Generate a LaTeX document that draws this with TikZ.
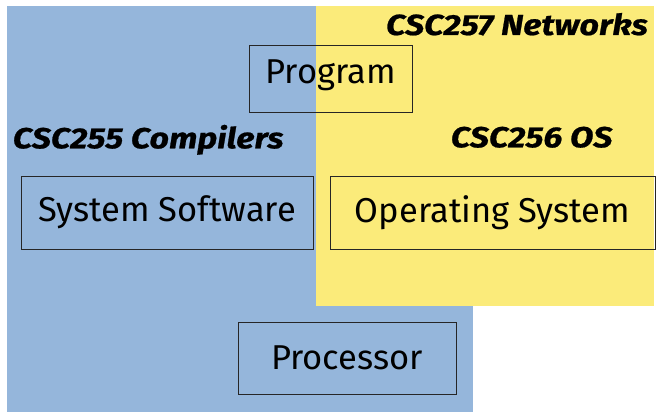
\documentclass[tikz,border=0pt]{standalone}
\usepackage{fontspec}
\setmainfont{Fira Sans}
\newcommand{\widelabel}[1]{\scalebox{1.175}[1]{\addfontfeatures{FakeBold=0.7}#1}}
\begin{document}
\begin{tikzpicture}[x=1pt,y=-1pt,
  boxnode/.style={draw=black!85, line width=1pt, inner sep=0pt, text height=23.5pt, font=\fontsize{34.5}{38}\selectfont},
  coursenode/.style={inner sep=0pt, font=\fontsize{29}{32}\selectfont\bfseries\itshape}]
\definecolor{bluefill}{RGB}{149,182,219}
\definecolor{yellowfill}{RGB}{251,235,122}
\useasboundingbox (0,0) rectangle (656,412);
\fill[bluefill] (7,6) rectangle (473,412);
\fill[yellowfill] (316,6) rectangle (654,306);
\node[boxnode, text depth=15pt, minimum width=163pt, minimum height=66pt] (prog) at (330.5,79) {Program};
\node[boxnode, text depth=5pt, minimum width=292pt, minimum height=73pt] (sys) at (167,212.5) {System Software};
\node[boxnode, text depth=3pt, minimum width=325pt, minimum height=73pt] (os) at (492.5,212.5) {Operating System};
\node[boxnode, text depth=1pt, minimum width=218pt, minimum height=72pt] (proc) at (347,358) {Processor};
\node[coursenode, anchor=base west] (c255) at (12.7,148.3) {\widelabel{CSC255 Compilers}};
\node[coursenode, anchor=base west] (c256) at (450.7,147.3) {\widelabel{CSC256 OS}};
\node[coursenode, anchor=base east] (c257) at (648,35) {\widelabel{CSC257 Networks}};
\end{tikzpicture}
\end{document}
